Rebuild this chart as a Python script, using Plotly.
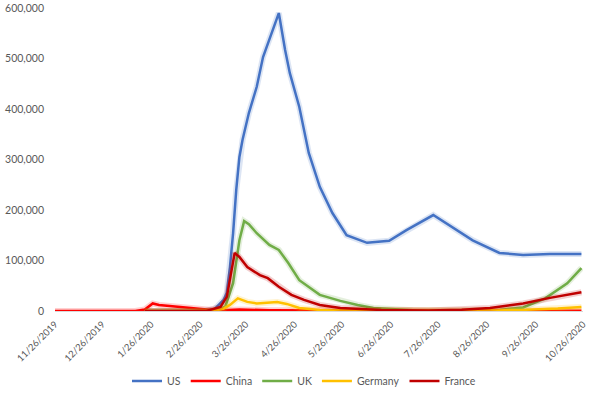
import plotly.graph_objects as go

# ---- data ----
us_dates = ["2020-01-22", "2020-02-26", "2020-03-06", "2020-03-09", "2020-03-12", "2020-03-14",
            "2020-03-16", "2020-03-18", "2020-03-20", "2020-03-22", "2020-03-24", "2020-03-28",
            "2020-04-02", "2020-04-06", "2020-04-10", "2020-04-16", "2020-04-20", "2020-04-23",
            "2020-04-29", "2020-05-05", "2020-05-12", "2020-05-20", "2020-05-29", "2020-06-11",
            "2020-06-25", "2020-07-06", "2020-07-23", "2020-08-04", "2020-08-17", "2020-09-03",
            "2020-09-18", "2020-10-05", "2020-10-25"]
us_values = [0, 0, 3000, 12000, 22000, 36000,
             87000, 154000, 240000, 305000, 339000, 392000,
             444000, 503000, 537000, 590000, 517000, 471000,
             404000, 313000, 246000, 194000, 150000, 135000,
             139000, 160000, 190000, 166000, 140000, 115000,
             111000, 113000, 113000]

china_dates = ["2019-11-26", "2020-01-16", "2020-01-22", "2020-01-27", "2020-01-31", "2020-02-15",
               "2020-02-26", "2020-03-08", "2020-03-22", "2020-04-10", "2020-06-01", "2020-10-25"]
china_values = [0, 0, 3000, 15000, 12000, 7500,
                3000, 1000, 3000, 1500, 800, 500]

uk_dates = ["2020-01-22", "2020-03-05", "2020-03-13", "2020-03-18", "2020-03-22", "2020-03-25",
            "2020-03-28", "2020-04-02", "2020-04-10", "2020-04-16", "2020-04-22", "2020-04-29",
            "2020-05-12", "2020-05-25", "2020-06-05", "2020-06-15", "2020-07-10", "2020-08-15",
            "2020-09-03", "2020-09-18", "2020-10-02", "2020-10-16", "2020-10-25"]
uk_values = [0, 0, 8000, 55000, 140000, 178000,
             172000, 154000, 131000, 121000, 95000, 61000,
             32000, 20000, 12000, 6000, 1500, 1000,
             2000, 7000, 25000, 55000, 85000]

germany_dates = ["2020-01-22", "2020-03-05", "2020-03-12", "2020-03-16", "2020-03-21", "2020-03-27",
                 "2020-04-02", "2020-04-10", "2020-04-15", "2020-04-21", "2020-04-29", "2020-05-12",
                 "2020-06-15", "2020-08-15", "2020-09-20", "2020-10-10", "2020-10-25"]
germany_values = [0, 0, 5000, 12000, 25000, 18000,
                  15000, 16000, 18000, 14000, 6000, 2000,
                  1000, 1000, 2500, 5000, 8000]

france_dates = ["2020-01-22", "2020-03-01", "2020-03-10", "2020-03-14", "2020-03-19", "2020-03-22",
                "2020-03-27", "2020-04-04", "2020-04-09", "2020-04-16", "2020-04-24", "2020-05-02",
                "2020-05-12", "2020-05-25", "2020-06-20", "2020-07-20", "2020-08-10", "2020-08-28",
                "2020-09-18", "2020-10-05", "2020-10-25"]
france_values = [0, 0, 8000, 28000, 115000, 107000,
                 87000, 71000, 65000, 48000, 32000, 22000,
                 12000, 6000, 2000, 1000, 2500, 6000,
                 15000, 26000, 37000]

tick_dates = ["2019-11-26", "2019-12-26", "2020-01-26", "2020-02-26", "2020-03-26", "2020-04-26",
              "2020-05-26", "2020-06-26", "2020-07-26", "2020-08-26", "2020-09-26", "2020-10-26"]
tick_labels = ["11/26/2019", "12/26/2019", "1/26/2020", "2/26/2020", "3/26/2020", "4/26/2020",
               "5/26/2020", "6/26/2020", "7/26/2020", "8/26/2020", "9/26/2020", "10/26/2020"]

series = [
    ("US", us_dates, us_values, "#4472C4"),
    ("China", china_dates, china_values, "#FF0000"),
    ("UK", uk_dates, uk_values, "#70AD47"),
    ("Germany", germany_dates, germany_values, "#FFC000"),
    ("France", france_dates, france_values, "#C00000"),
]

fig = go.Figure()
for name, d, v, c in series:
    # soft glow beneath the line
    fig.add_trace(go.Scatter(x=d, y=v, mode="lines", line=dict(color=c, width=6),
                             opacity=0.18, showlegend=False, hoverinfo="skip"))
    fig.add_trace(go.Scatter(x=d, y=v, mode="lines", name=name,
                             line=dict(color=c, width=2.5)))

font_family = "Lato, 'Open Sans', sans-serif"
fig.update_layout(
    width=608, height=399,
    margin=dict(l=55, r=25, t=8, b=88, autoexpand=False),
    paper_bgcolor="white", plot_bgcolor="white",
    font=dict(family=font_family, size=10, color="#595959"),
    showlegend=True,
    legend=dict(orientation="h", xref="container", x=0.5, xanchor="center",
                yref="container", y=18 / 399, yanchor="middle",
                font=dict(size=10.5, color="#595959"), itemwidth=30,
                tracegroupgap=0),
)
fig.update_xaxes(type="date", range=["2019-11-26", "2020-10-26"],
                 tickvals=tick_dates, ticktext=tick_labels, tickangle=-45,
                 showgrid=False, showline=True, linecolor="#D9D9D9", zeroline=False,
                 ticks="", automargin=False, ticklabelstandoff=3,
                 tickfont=dict(size=9.5, color="#595959"))
fig.update_yaxes(range=[0, 600000], dtick=100000, tickformat=",",
                 showgrid=False, zeroline=False, showline=False, automargin=False,
                 ticklabelstandoff=10, tickfont=dict(size=10.5, color="#595959"))

fig.write_html("out.html", config={"displayModeBar": False},
               post_script="document.body.style.margin='0';document.body.style.overflow='hidden';")
